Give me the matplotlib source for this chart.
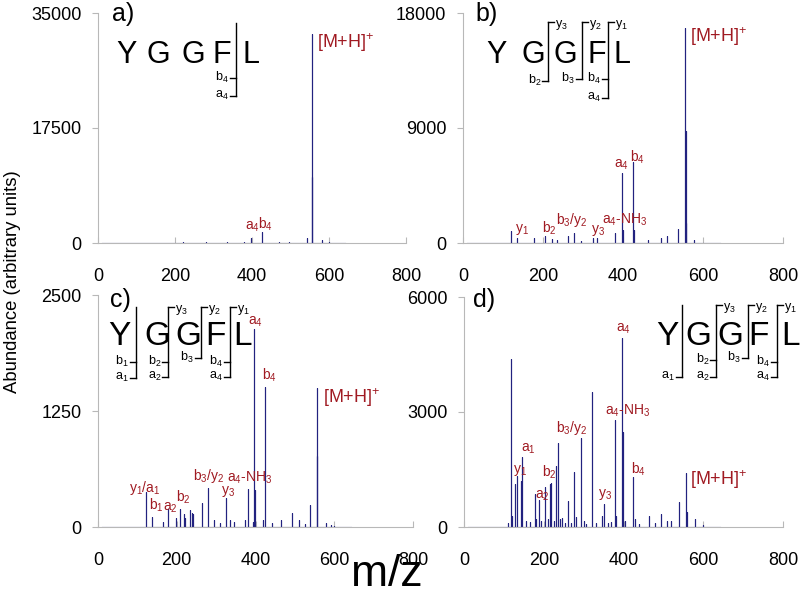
import matplotlib
matplotlib.use('Agg')
import matplotlib.pyplot as plt
from matplotlib.transforms import Affine2D

plt.rcParams['font.family'] = ['Liberation Sans', 'DejaVu Sans']
plt.rcParams['mathtext.fontset'] = 'custom'
plt.rcParams['mathtext.rm'] = 'Liberation Sans'
plt.rcParams['mathtext.it'] = 'Liberation Sans:italic'
plt.rcParams['mathtext.bf'] = 'Liberation Sans:bold'

W, H = 800, 595
BLUE = '#22227f'
RED = '#a01a22'
GRAY = '#b8b8b8'

# spectrum m/z range (baseline)
mz_start, mz_end = 10, 642
x_ticks = [0, 200, 400, 600, 800]

# a) peak list
mz_a = [120, 136, 178, 221, 280, 336, 380, 397, 425, 470, 497, 542, 556, 557, 581, 600]
int_a = [60, 40, 50, 80, 200, 100, 150, 750, 1700, 80, 100, 760, 31800, 10000, 450, 80]
yticks_a = [0, 17500, 35000]

# b) peak list
mz_b = [121, 136, 177, 206, 222, 235, 262, 278, 295, 324, 336, 381, 397, 400,
        426, 428, 463, 494, 509, 538, 556, 557, 558, 577]
int_b = [913, 365, 365, 522, 313, 209, 522, 783, 157, 417, 365, 783, 5480, 1040,
         6340, 1040, 209, 365, 522, 1096, 16830, 8740, 1600, 209]
yticks_b = [0, 9000, 18000]

# c) peak list
mz_c = [121, 137, 165, 178, 198, 207, 219, 222, 234, 238, 240, 263, 279, 295, 310,
        324, 335, 345, 374, 380, 393, 397, 399, 420, 425, 441, 466, 492, 511, 525,
        538, 556, 557, 578, 592, 600]
int_c = [378, 108, 50, 191, 97, 191, 137, 100, 180, 155, 140, 263, 425, 80, 40,
         313, 80, 54, 72, 414, 54, 2131, 400, 72, 1512, 40, 72, 151, 72, 30,
         234, 1494, 767, 47, 25, 15]
yticks_c = [0, 1250, 2500]

# d) peak list
mz_d = [110, 117, 120, 128, 132, 142, 146, 155, 165, 177, 180, 187, 192, 204, 210,
        216, 218, 226, 231, 236, 240, 246, 253, 261, 268, 276, 280, 293, 300, 305,
        321, 322, 330, 345, 351, 360, 369, 379, 382, 397, 399, 405, 425, 428, 440,
        464, 478, 493, 510, 520, 539, 556, 558, 579, 600]
int_d = [100, 4394, 300, 1130, 1322, 1200, 1827, 150, 130, 850, 200, 696, 150, 1044, 200,
         1130, 1157, 150, 1590, 2200, 200, 240, 100, 680, 100, 1435, 250, 2330, 150, 80,
         3524, 1150, 100, 300, 592, 100, 120, 2800, 300, 4933, 2480, 150, 1305, 200, 80,
         296, 100, 330, 157, 157, 644, 1410, 400, 209, 60]
yticks_d = [0, 3000, 6000]

MH = r'[M+H]$^\mathregular{+}$'


def frag(s):
    return r'$\mathregular{' + s + '}$'


labels_a = [(MH, 568, 29620, 'left', 13), (frag('a_4'), 401, 1978, 'center', 10),
            (frag('b_4'), 434, 2130, 'center', 10)]
labels_b = [(MH, 567, 15750, 'left', 13), (frag('a_4'), 397, 5870, 'center', 10),
            (frag('b_4'), 435, 6363, 'center', 10),
            (frag('a_4') + '-' + frag('NH_3'), 405, 1487, 'center', 10),
            (frag('y_3'), 338, 780, 'center', 10), (frag('b_3/y_2'), 272, 1487, 'center', 10),
            (frag('b_2'), 217, 837, 'center', 10), (frag('y_1'), 147, 837, 'center', 10)]
labels_c = [(MH, 572, 1333, 'left', 13), (frag('a_4'), 399, 2177, 'center', 10),
            (frag('b_4'), 435, 1591, 'center', 10),
            (frag('a_4') + '-' + frag('NH_3'), 386, 488, 'center', 10),
            (frag('b_3/y_2'), 280, 506, 'center', 10), (frag('y_3'), 329, 356, 'center', 10),
            (frag('y_1/a_1'), 119, 381, 'center', 10), (frag('b_1'), 149, 190, 'center', 10),
            (frag('a_2'), 185, 176, 'center', 10), (frag('b_2'), 217, 273, 'center', 10)]
labels_d = [(MH, 567, 1096, 'left', 13), (frag('a_4'), 400, 5095, 'center', 10),
            (frag('a_4') + '-' + frag('NH_3'), 410, 2922, 'center', 10),
            (frag('b_3/y_2'), 270, 2486, 'center', 10), (frag('a_1'), 161, 1964, 'center', 10),
            (frag('y_1'), 140, 1400, 'center', 10), (frag('b_2'), 214, 1313, 'center', 10),
            (frag('a_2'), 197, 748, 'center', 10), (frag('y_3'), 354, 791, 'center', 10),
            (frag('b_4'), 437, 1400, 'center', 10)]

fig = plt.figure(figsize=(W / 100, H / 100), dpi=100)
# figure pixel coordinates measured from the top-left corner
px = Affine2D().scale(1 / W, -1 / H).translate(0, 1) + fig.transFigure


def draw_panel(rect, mz, inten, yticks, labels):
    l, t, w, h = rect
    ax = fig.add_axes([l / W, 1 - (t + h) / H, w / W, h / H])
    xs, ys = [mz_start], [0]
    for m, i in sorted(zip(mz, inten)):
        xs += [m, m, m]
        ys += [0, i, 0]
    xs.append(mz_end)
    ys.append(0)
    ax.plot(xs, ys, color=BLUE, lw=0.8)
    ax.set_xlim(0, 800)
    ax.set_ylim(0, yticks[-1])
    ax.set_xticks(x_ticks)
    ax.set_yticks(yticks)
    for s in ['top', 'right']:
        ax.spines[s].set_visible(False)
    for s in ['left', 'bottom']:
        ax.spines[s].set_color(GRAY)
        ax.spines[s].set_linewidth(0.8)
    ax.tick_params(axis='y', direction='out', length=4, width=0.8, color=GRAY,
                   labelsize=13, pad=8)
    ax.tick_params(axis='x', direction='in', length=4, width=0.8, color=GRAY,
                   labelsize=13, pad=18)
    ax.patch.set_visible(False)
    for text, x, y, ha, size in labels:
        ax.text(x, y, text, color=RED, fontsize=size, ha=ha, va='baseline')
    return ax


def draw_sequence(letter_x, base_y, size, cuts):
    for letter, x in zip('YGGFL', letter_x):
        fig.text(x, base_y, letter, fontsize=size, ha='center', va='baseline', transform=px)
    for x, top, ylab, frags in cuts:
        bottom = max(y for y, _ in frags)
        fig.add_artist(plt.Line2D([x, x], [top, bottom], color='black', lw=1, transform=px))
        if ylab:
            fig.add_artist(plt.Line2D([x, x + 6], [top, top], color='black', lw=1, transform=px))
            fig.text(x + 7, top + 3, frag(ylab), fontsize=9, ha='left', va='center', transform=px)
        for y, lab in frags:
            fig.add_artist(plt.Line2D([x - 6, x], [y, y], color='black', lw=1, transform=px))
            fig.text(x - 7, y - 1, frag(lab), fontsize=9, ha='right', va='center', transform=px)


draw_panel((98, 13, 308, 230), mz_a, int_a, yticks_a, labels_a)
draw_panel((463, 13, 320, 230), mz_b, int_b, yticks_b, labels_b)
draw_panel((98, 295, 315, 232), mz_c, int_c, yticks_c, labels_c)
draw_panel((464, 297, 319, 230), mz_d, int_d, yticks_d, labels_d)

draw_sequence([127, 158, 193, 222, 251], 63, 22,
              [(236, 23, None, [(78, 'b_4'), (96, 'a_4')])])
draw_sequence([497, 533, 565, 597, 622], 63, 22,
              [(548, 22, 'y_3', [(81, 'b_2')]),
               (582, 22, 'y_2', [(79, 'b_3')]),
               (608, 22, 'y_1', [(79, 'b_4'), (98, 'a_4')])])
draw_sequence([119, 157, 188, 215, 243], 345, 24,
              [(136, 307, None, [(362, 'b_1'), (378, 'a_1')]),
               (168, 307, 'y_3', [(362, 'b_2'), (377, 'a_2')]),
               (201, 307, 'y_2', [(358, 'b_3')]),
               (230, 307, 'y_1', [(362, 'b_4'), (377, 'a_4')])])
draw_sequence([667, 698, 730, 758, 790], 345, 24,
              [(682, 305, None, [(377, 'a_1')]),
               (716, 305, 'y_3', [(360, 'b_2'), (377, 'a_2')]),
               (748, 305, 'y_2', [(358, 'b_3')]),
               (777, 305, 'y_1', [(362, 'b_4'), (377, 'a_4')])])

for lab, x, y in [('a)', 112, 14), ('b)', 475, 14), ('c)', 110, 300), ('d)', 473, 300)]:
    fig.text(x, y, lab, fontsize=18, ha='left', va='center', transform=px)

fig.text(13, 282, 'Abundance (arbitrary units)', fontsize=13.3, rotation=90,
         ha='center', va='center', transform=px)
fig.text(387, 586, 'm/z', fontsize=32, ha='center', va='baseline', transform=px)

fig.savefig('out.png', dpi=100)
